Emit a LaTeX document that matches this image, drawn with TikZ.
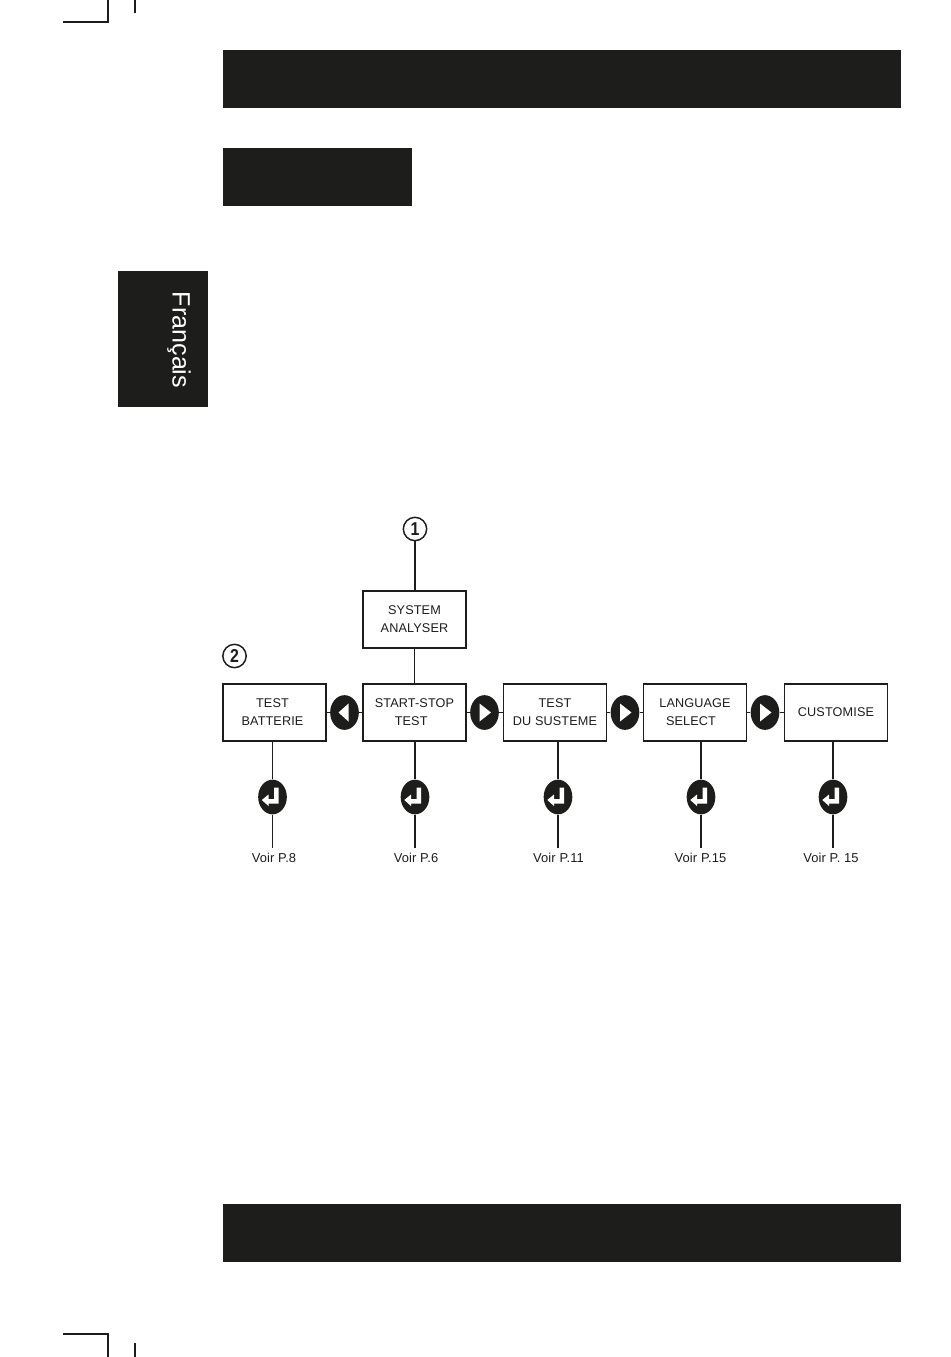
\documentclass[tikz,border=0pt]{standalone}
\usepackage{fontspec}
\setmainfont[LetterSpace=1]{Liberation Sans}
\newfontfamily\tabfont{Liberation Sans}
\usetikzlibrary{shapes.geometric}
\definecolor{ink}{HTML}{1D1D1B}
\tikzset{
    boxnode/.style={draw=ink,line width=1.1pt,fill=white,minimum width=77pt,minimum height=43pt,inner sep=0pt,align=center,font=\fontsize{9.5}{13.5}\selectfont,text=ink},
    dotnode/.style={ellipse,fill=ink,minimum width=21.5pt,minimum height=26pt,inner sep=0pt},
    dotleft/.style={dotnode,path picture={\fill[white,shift={(path picture bounding box.center)}] (-6,0) -- (4,-9) -- (4,9) -- cycle;}},
    dotright/.style={dotnode,path picture={\fill[white,shift={(path picture bounding box.center)}] (6.5,0) -- (-5,-9) -- (-5,9) -- cycle;}},
    dotreturn/.style={dotnode,path picture={\fill[white,shift={(path picture bounding box.center)}] (1.7,-9.5) -- (6.2,-9.5) -- (6.2,6.5) -- (-4,6.5) -- (-4,9) -- (-10.7,3) -- (-4,-2.5) -- (-4,2) -- (1.7,2) -- cycle;}},
    numring/.style={circle,draw=ink,line width=1.1pt,fill=white,minimum size=17.5pt,inner sep=0pt,font=\tabfont\bfseries\fontsize{14}{14}\selectfont,text=ink},
    voirlabel/.style={inner sep=0pt,minimum height=15pt,font=\fontsize{9.7}{10}\selectfont,text=ink},
    link/.style={draw=ink,line width=1.1pt}
}
\begin{document}
\begin{tikzpicture}[x=0.75pt,y=-0.75pt]
    \useasboundingbox (0,0) rectangle (950,1357);
    % page furniture
    \fill[ink] (223,50) rectangle (901,108);
    \fill[ink] (223,148) rectangle (412,206);
    \fill[ink] (223,1204) rectangle (901,1262);
    \fill[ink] (118,271) rectangle (208,407);
    \node[rotate=-90,anchor=base,inner sep=0pt,text=white,font=\tabfont\fontsize{18.8}{20}\selectfont] (tab) at (172.5,340) {Français};
    % crop marks
    \draw[ink,line width=0.9pt] (63,22) -- (108,22) -- (108,0);
    \draw[ink,line width=0.9pt] (135,0) -- (135,13);
    \draw[ink,line width=0.9pt] (63,1334) -- (108,1334) -- (108,1357);
    \draw[ink,line width=0.9pt] (135,1343) -- (135,1357);
    % menu boxes
    \node[boxnode] (system) at (414.5,619.5) {SYSTEM\\ANALYSER};
    \node[boxnode] (batterie) at (274.5,712.5) {\hspace*{-3pt}TEST\\\hspace*{-3pt}BATTERIE};
    \node[boxnode] (start) at (414.5,712.5) {START-STOP\\\hspace*{-5pt}TEST};
    \node[boxnode] (susteme) at (555,712.5) {TEST\\DU SUSTEME};
    \node[boxnode] (language) at (695,712.5) {LANGUAGE\\SELECT\hspace*{6pt}};
    \node[boxnode] (customise) at (836,712.5) {CUSTOMISE};
    % numbered marks
    \node[numring] (one) at (415,529) {\scalebox{0.85}[1]{1}};
    \node[numring] (two) at (234.5,656) {\scalebox{0.85}[1]{2}};
    % arrows between boxes
    \node[dotleft] (back) at (344.5,712.5) {};
    \node[dotright] (nexta) at (484.5,712.5) {};
    \node[dotright] (nextb) at (625,712.5) {};
    \node[dotright] (nextc) at (765,712.5) {};
    % enter keys
    \node[dotreturn] (enta) at (272.5,797) {};
    \node[dotreturn] (entb) at (415,797) {};
    \node[dotreturn] (entc) at (558,797) {};
    \node[dotreturn] (entd) at (701,797) {};
    \node[dotreturn] (ente) at (833,797) {};
    % page references
    \node[voirlabel,anchor=north] (voira) at (274,848) {Voir P.8};
    \node[voirlabel,anchor=north] (voirb) at (416,848) {Voir P.6};
    \node[voirlabel,anchor=north] (voirc) at (558.5,848) {Voir P.11};
    \node[voirlabel,anchor=north] (voird) at (700.5,848) {Voir P.15};
    \node[voirlabel,anchor=north] (voire) at (831,848) {Voir P. 15};
    % connectors
    \draw[link] (one) -- (system.north -| one);
    \draw[link] (system) -- (start);
    \draw[link] (batterie) -- (back) -- (start);
    \draw[link] (start) -- (nexta) -- (susteme);
    \draw[link] (susteme) -- (nextb) -- (language);
    \draw[link] (language) -- (nextc) -- (customise);
    \draw[link] (batterie.south -| enta) -- (enta) -- (voira.north -| enta);
    \draw[link] (start.south -| entb) -- (entb) -- (voirb.north -| entb);
    \draw[link] (susteme.south -| entc) -- (entc) -- (voirc.north -| entc);
    \draw[link] (language.south -| entd) -- (entd) -- (voird.north -| entd);
    \draw[link] (customise.south -| ente) -- (ente) -- (voire.north -| ente);
\end{tikzpicture}
\end{document}
